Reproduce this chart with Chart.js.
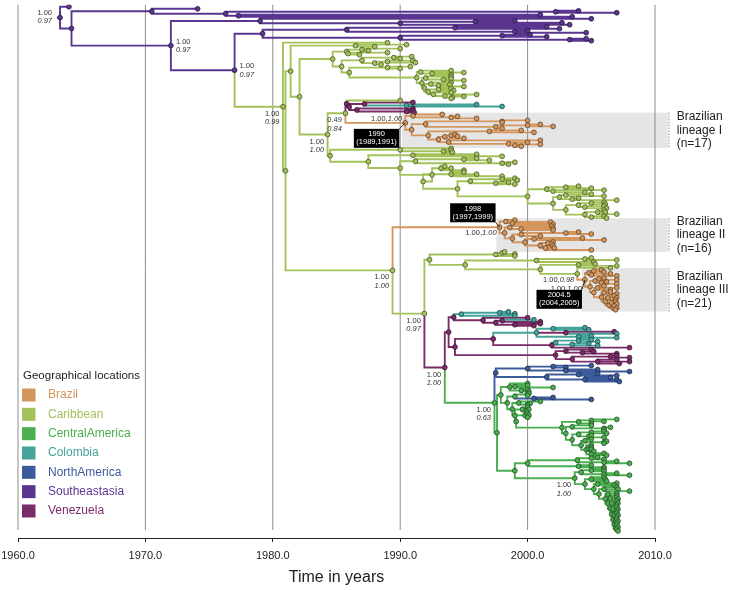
<!DOCTYPE html>
<html>
<head>
<meta charset="utf-8">
<script src="https://cdn.jsdelivr.net/npm/chart.js@4.4.1/dist/chart.umd.min.js"></script>
<style>html,body{margin:0;padding:0;background:#fff}</style>
</head>
<body>
<canvas id="tree" width="731" height="590"></canvas>
<script>
// ---- data ----
const locations = ['Brazil', 'Caribbean', 'CentralAmerica', 'Colombia', 'NorthAmerica', 'Southeastasia', 'Venezuela'];
const locCodes = ['B', 'K', 'C', 'O', 'N', 'S', 'V'];
const yearTicks = [1960, 1970, 1980, 1990, 2000, 2010];
const lineageNames = ['lineage I', 'lineage II', 'lineage III'];
const lineageCounts = [17, 16, 21];
const lineageDates = [['1990', '(1989,1991)'], ['1998', '(1997,1999)'], ['2004.5', '(2004,2005)']];

// tree clades: location code + node date, children top to bottom in brackets
// {a/b/pos} = posterior support labels, {Ln} = Brazilian lineage n
const seAsia = `S1963.3{1.00/0.97/l}(S1964.0,
  S1964.2(S1970.5(S1974.1,S1976.3(S2002.2(S2004.0,S2007.0),S1977.3(S2001.0,S2003.5))),
  S1972.0{1.00/0.97/r}(S1979.0(S2005.0,S1990.0(S1995.9(S1999.0,S2002.7),S2003.3)),
  S1977.0{1.00/0.97/r}(S1979.2(S1985.8(S1994.3(S2001.5,S2002.5),S1999.0(S2000.0,S2004.6)),
    S1990.0(S1998.0(S2000.2,S2001.5),S2003.3(S2004.6,S2005.0))), $americas) ) ) )`;

const americas = `K1980.8{1.00/0.99/lb}(K1989.0,
  K1981.0(K1981.4(K1986.5(K1990.5,K1988.0),
    K1982.1($caribTop, K1984.3{1.00/1.00/lb}(K1985.7{0.49/0.84/lb}($venezMini, $brazil1), $caribMid) ) ),
  K1989.4{1.00/1.00/lb}($brazil2, K1991.9{1.00/0.97/lb}($caribLow,
    V1993.5{1.00/1.00/lb}($venezCol, C1997.4{1.00/0.63/lb}($northAm, C1997.6($centralA, $centralB)
  )))) ))`;

const caribTop = `K1984.7(K1985.8(K1987.0(K1990.0,K1987.5),K1985.9(K1989.0,K1986.8)),
  K1985.4(K1987.0(K1989.5(K1990.9,K1990.0),K1988.0(K1989.0(K1991.0,K1991.2),K1988.5)),
  K1986.0(K1989.0(K1990.8,K1990.0),
  K1991.3(K1991.6(K1994.0,K1992.5(K1995.0,K1994.0)),
  K1991.7(K1992.0(K1994.0,K1993.4(K1994.0,K1995.0)),
  K1991.9(K1992.4(K1994.0,K1993.0(K1993.9,K1995.0)),
  K1992.2(K1993.0(K1994.0,K1994.2),K1992.6(K1994.0,K1993.5(K1996.0,K1994.1(K1995.0,K1994.0
  ))))) )))))`;

const venezMini = `V1985.8(K1990.0,V1986.0(V1987.2(V1991.0,O1990.5(O1996.0,O1998.0)),
  V1986.6(V1991.0,V1990.5(V1991.0,V1991.1) ) ) )`;

const brazil1 = `B1990.4{1.00,1.00/ia}{L0}(B1991.0(B1993.3,B1994.0(B1994.5,B1996.0)),
  B1990.9(B1992.0(B1998.0(B2000.0,B1998.0),B1997.5(B2000.0(B2001.0,B2002.0),B1998.0)),
  B1992.2(B1997.0(B1999.5,B2000.5),
  B1993.0(B1993.5(B1994.0(B1994.3,B1994.5),B1995.0),B1993.8(B2001.0,B1998.5(B2000.0,B1999.0(B2001.0,B1999.5
  ))))) ))`;

const caribMid = `K1984.5(K1990.0(K1994.0,K1993.4(K1994.0,K1994.1)),
  K1987.5(K1991.0(K1996.0,K1998.0),
  K1990.0(K1991.2(K1995.0(K1996.0,K1997.0),K1998.0(K1999.0,K1998.5)),
  K1992.5(K1993.2(K1993.5,K1994.0,K1995.0),
  K1991.8(K1994.0(K1995.0,K1996.0,K1998.0),
  K1994.5(K1995.5(K1998.0(K1999.0,K1999.2),K1997.5(K1998.5,K1999.0)),
  K2000.0(K2001.5(K2003.0(K2004.0,K2005.0),K2002.0(K2006.0,K2004.5)),
  K2002.0(K2002.5(K2003.0(K2005.0,K2006.0),K2003.5(K2004.0,K2007.0)),
  K2003.0(K2004.0(K2005.0(K2006.0,K2006.1),K2004.5(K2006.0,K2006.2)),
    K2004.5(K2005.5(K2006.0,K2006.1,K2007.0),K2005.0(K2006.0,K2006.2
  ))))) ))))) )`;

const brazil2 = `B1997.8{1.00,1.00/i}{L1}(B1998.3(B1999.0,B1998.8(B2001.8,B2002.0)),
  B1998.2(B1998.6(B2001.9,B1999.5(B2002.0,B2002.0)),
  B1998.8(B1999.5(B2003.0(B2004.0,B2005.0),B2001.0),
  B1999.8(B2000.5(B2004.3,B2006.0),B2001.0(B2001.6(B2002.0,B2001.9),B2001.4(B2002.0,B2002.1,B2005.0
  ))))) )`;

const caribLow = `K1992.3(K1997.5(K1998.0(K1998.2,K1999.0),K1999.0),
  K1995.1(K2000.7(K2004.5(K2005.0,K2007.0),K2005.2),
  K2001.0(K2004.0(K2005.3,K2007.0),K2003.9{1.00,0.98/i}(K2006.5, $brazil3) ) ) )`;

const brazil3 = `B2004.5{1.00,1.00/ib}{L2}(B2004.8(B2005.2(B2005.8,B2006.0),B2005.0(B2006.5,B2007.0)),
  B2004.9(B2005.3(B2005.6(B2006.0,B2007.0),B2005.8(B2006.2,B2007.0)),
  B2005.2(B2005.5(B2006.0,B2007.0,B2006.5),
  B2005.8(B2006.0(B2006.5,B2007.0),
  B2006.1(B2006.3(B2006.8,B2007.0,B2006.9),B2006.4(B2006.6(B2006.9,B2007.0),B2006.7(B2006.8,B2007.0,B2006.9
  ))))) ))`;

const venezCol = `V1993.8(V1994.2(O1994.8(O1997.8(O1998.5,O1999.0),O1999.0),
    V1996.5(V2000.0,V1997.5(V1998.0(O2000.5,V2001.0),V1999.0(V2001.0,V2000.5)))),
  V1994.3(V1997.3(O2000.7(O2002.0(O2004.5,O2004.8),V2003.0(V2006.8,O2007.0),O2004.0(O2005.0,O2007.0)),
    V2001.9(O2002.2(O2004.0(O2005.0,O2005.5),O2003.5(O2004.8,O2005.5)),V2008.0)),
  V2002.2(V2003.0(V2005.0,V2004.3(V2005.2,V2007.0)),V2003.5(V2006.5(V2007.0,V2008.0),V2005.5(V2007.0,V2008.0,V2007.2
  ))))) `;

const northAm = `N1997.5(N2000.0(N2002.0(N2005.0,N2003.0),N2003.0(N2005.5,N2008.0)),
  N2001.5(N2004.0(N2005.5,N2007.0),N2004.5(N2006.5,N2007.0,N2007.2) ) )`;

const centralA = `C1997.9(C1998.6(C2000.0,C1999.0(C2000.0,C2002.0),C1999.5(C2000.0,C2000.1)),
  C1998.4(C1999.0(C2000.0(C2000.1,C2000.0),N2000.5(N2002.0,N2005.0)),
  C1998.8(C1999.3(C2001.0,C2000.0(C2000.2,C2000.0)),
  C1999.0(C1999.6(C2000.0,C2000.1,C1999.9),
  C1999.1(C1999.8(C2000.0,C2000.1,C2000.0), $centralSub
  ))))) `;

const centralSub = `C2002.7(C2004.0(C2005.0(C2007.0,C2006.0),C2005.0),
  C2003.0(C2003.5(C2005.0,C2006.0(C2006.5,C2006.0)),
  C2003.5(C2004.0(C2005.0(C2006.0,C2006.2),C2004.8(C2005.0,C2006.0)),
  C2004.2(C2004.5(C2005.0,C2006.0(C2006.2,C2006.0)),
    C2004.6(C2005.0,C2004.8(C2005.0,C2005.0(C2005.0,C2005.2)),C2005.0(C2006.0,C2006.2
  ))))) )`;

const centralB = `C1999.0(C2000.0(C2003.9(C2005.0(C2005.5,C2006.0),C2006.0(C2007.0,C2008.0)),C2004.0(C2005.0,C2006.0)),
  C2003.7{1.00/1.00/lb}(C2004.2(C2005.0(C2006.0,C2006.0),C2006.0(C2007.0,C2008.0)),
  C2004.5(C2005.0(C2006.0,C2006.1,C2006.2),
  C2005.2(C2005.5(C2007.0,C2006.8),
  C2005.6(C2006.0(C2007.0,C2007.1,C2008.0),
  C2006.1(C2006.3(C2007.0,C2007.0),
  C2006.3(C2006.5(C2007.0,C2007.1),
  C2006.5(C2006.6(C2007.0,C2007.1,C2007.0),
  C2006.6(C2006.7(C2007.0,C2007.1,C2007.0),
  C2006.7(C2006.8(C2007.0,C2007.1,C2007.0),
  C2006.8(C2006.9(C2007.0,C2007.1,C2007.0),C2006.9(C2007.0,C2007.1,C2007.0,C2007.1
  ))))) ))))) ))`;

// ---- styling ----
const family = '"Liberation Sans", Arial, Helvetica, sans-serif';
const colors = {
  B: '#D4965C', K: '#A3C25A', C: '#4BAE4F', O: '#45A39B',
  N: '#3D5B9B', S: '#5B3690', V: '#7B2D69'
};
function darker(hex, f) {
  const n = parseInt(hex.slice(1), 16);
  const r = Math.round((n >> 16) * f), g = Math.round(((n >> 8) & 255) * f), b = Math.round((n & 255) * f);
  return `rgb(${r},${g},${b})`;
}

// ---- build tree ----
const clades = { americas, caribTop, venezMini, brazil1, caribMid, brazil2, caribLow, brazil3,
                 venezCol, northAm, centralA, centralSub, centralB };
function expand(s) {
  return s.replace(/\$(\w+)/g, (_, k) => expand(clades[k]));
}

function parseTree(src) {
  const s = src.replace(/\s+/g, '');
  let i = 0;
  function node() {
    const m = /^([A-Z])(\d+(?:\.\d+)?)/.exec(s.slice(i));
    if (!m) throw new Error('tree parse error near: ' + s.slice(i, i + 30));
    i += m[0].length;
    const n = { loc: m[1], t: parseFloat(m[2]), kids: [] };
    while (s[i] === '{') {
      const j = s.indexOf('}', i);
      const body = s.slice(i + 1, j);
      if (body[0] === 'L') n.lineage = +body.slice(1);
      else {
        const parts = body.split('/');
        n.place = parts.pop();
        n.support = parts;
      }
      i = j + 1;
    }
    if (s[i] === '(') {
      i++;
      n.kids.push(node());
      while (s[i] === ',') { i++; n.kids.push(node()); }
      if (s[i] === ')') i++;
    }
    return n;
  }
  return node();
}

const root = parseTree(expand(seAsia));
const nodes = [];
let tipCount = 0;
function layout(n, parent) {
  n.parent = parent;
  nodes.push(n);
  if (!n.kids.length) {
    n.y = tipCount++;
    n.first = n.last = n.y;
  } else {
    n.kids.forEach(k => layout(k, n));
    const a = n.kids[0], b = n.kids[n.kids.length - 1];
    n.y = (a.y + b.y) / 2;
    n.first = a.first;
    n.last = b.last;
  }
}
layout(root, null);
const lineageRoots = nodes.filter(n => n.lineage !== undefined).sort((a, b) => a.lineage - b.lineage);

const branchData = {}, nodeData = {};
locCodes.forEach(c => { branchData[c] = []; nodeData[c] = []; });
nodes.forEach(n => {
  const p = n.parent;
  const seg = branchData[n.loc];
  if (p) seg.push({ x: p.t, y: p.y }, { x: p.t, y: n.y }, { x: n.t, y: n.y }, { x: null, y: null });
  else seg.push({ x: n.t - 0.25, y: n.y }, { x: n.t, y: n.y }, { x: null, y: null });
  nodeData[n.loc].push({ x: n.t, y: n.y });
});

const datasets = [];
locCodes.forEach(c => {
  datasets.push({
    type: 'scatter', data: nodeData[c], order: 0,
    pointRadius: 2.4, pointBackgroundColor: colors[c],
    pointBorderColor: darker(colors[c], 0.45), pointBorderWidth: 0.8
  });
  datasets.push({
    type: 'line', data: branchData[c], order: 1,
    showLine: true, spanGaps: false, pointRadius: 0, tension: 0,
    borderColor: colors[c], borderWidth: 1.9, borderCapStyle: 'butt', borderJoinStyle: 'miter'
  });
});

// ---- annotation plugin ----
function supportLabel(ctx, n, px, py) {
  ctx.fillStyle = '#333';
  const normal = `7.5px ${family}`, italic = `italic 7.5px ${family}`;
  if (n.support.length === 2) {
    let ax, dy1, dy2;
    if (n.place === 'l') { ax = px - 8; ctx.textAlign = 'right'; dy1 = -5; dy2 = 3.5; }
    else if (n.place === 'r') { ax = px + 5; ctx.textAlign = 'left'; dy1 = -4; dy2 = 4.5; }
    else { ax = px - 3.5; ctx.textAlign = 'right'; dy1 = 7; dy2 = 15.5; }
    ctx.textBaseline = 'middle';
    ctx.font = normal; ctx.fillText(n.support[0], ax, py + dy1);
    ctx.font = italic; ctx.fillText(n.support[1], ax, py + dy2);
  } else {
    const [a, b] = n.support[0].split(',');
    const dy = n.place === 'ia' ? -4 : n.place === 'ib' ? 9 : 6;
    ctx.textBaseline = 'middle';
    ctx.textAlign = 'right';
    ctx.font = italic;
    const wb = ctx.measureText(b).width;
    ctx.fillText(b, px - 3, py + dy);
    ctx.font = normal;
    ctx.fillText(a + ',', px - 3 - wb, py + dy);
  }
}

const boxSides = [[-6, 6, 'below'], [-4, -5, 'above'], [-3, 10, 'below']];

const treePlugin = {
  id: 'treeDecor',
  beforeDatasetsDraw(chart) {
    const { ctx, chartArea: a, scales: { x, y } } = chart;
    ctx.save();
    lineageRoots.forEach(n => {
      const x0 = x.getPixelForValue(n.t - 0.25), x1 = x.getPixelForValue(2011);
      const y0 = y.getPixelForValue(n.first - 0.9), y1 = y.getPixelForValue(n.last + 0.9);
      ctx.fillStyle = '#e5e5e5';
      ctx.fillRect(x0, y0, x1 - x0, y1 - y0);
    });
    ctx.strokeStyle = '#8c8c8c';
    ctx.lineWidth = 1;
    yearTicks.forEach(v => {
      const px = x.getPixelForValue(v);
      ctx.beginPath(); ctx.moveTo(px, a.top); ctx.lineTo(px, a.bottom - 8); ctx.stroke();
    });
    ctx.restore();
  },
  afterDatasetsDraw(chart) {
    const { ctx, chartArea: a, scales: { x, y } } = chart;
    ctx.save();
    nodes.filter(n => n.support).forEach(n => supportLabel(ctx, n, x.getPixelForValue(n.t), y.getPixelForValue(n.y)));

    // dated boxes for the Brazilian lineages
    lineageRoots.forEach((n, i) => {
      const px = x.getPixelForValue(n.t), py = y.getPixelForValue(n.y);
      const [dx, dy, side] = boxSides[i];
      const lines = lineageDates[i];
      ctx.font = `7.5px ${family}`;
      const w = Math.max(...lines.map(t => ctx.measureText(t).width)) + 5, h = 19;
      const right = px + dx;
      const top = side === 'below' ? py + dy : py + dy - h;
      ctx.strokeStyle = '#000'; ctx.lineWidth = 0.8;
      ctx.beginPath();
      ctx.moveTo(right, side === 'below' ? top : top + h);
      ctx.lineTo(px, py);
      ctx.stroke();
      ctx.fillStyle = '#000';
      ctx.fillRect(right - w, top, w, h);
      ctx.fillStyle = '#fff'; ctx.textAlign = 'center'; ctx.textBaseline = 'middle';
      ctx.fillText(lines[0], right - w / 2, top + 5.5);
      ctx.fillText(lines[1], right - w / 2, top + 13.5);

      // side labels with dotted bracket
      const y0 = y.getPixelForValue(n.first - 0.9), y1 = y.getPixelForValue(n.last + 0.9);
      const bx = x.getPixelForValue(2011.1);
      ctx.strokeStyle = '#888'; ctx.lineWidth = 1; ctx.setLineDash([1.5, 1.5]);
      ctx.beginPath(); ctx.moveTo(bx, y0); ctx.lineTo(bx, y1); ctx.stroke();
      ctx.setLineDash([]);
      const c = (y0 + y1) / 2;
      ctx.fillStyle = '#222'; ctx.textAlign = 'left'; ctx.font = `12px ${family}`;
      ['Brazilian', lineageNames[i], `(n=${lineageCounts[i]})`].forEach((t, k) => {
        ctx.fillText(t, x.getPixelForValue(2011.7), c + (k - 1) * 13.5);
      });
    });

    // legend
    ctx.textAlign = 'left'; ctx.textBaseline = 'middle';
    ctx.fillStyle = '#222'; ctx.font = `11.5px ${family}`;
    ctx.fillText('Geographical locations', 23, 376);
    locations.forEach((name, k) => {
      const col = colors[locCodes[k]];
      const cy = 395 + k * 19.33;
      ctx.fillStyle = col;
      ctx.fillRect(22, cy - 6.5, 13.5, 13);
      ctx.font = `12px ${family}`;
      ctx.fillText(name, 48, cy);
    });

    // axis title
    ctx.fillStyle = '#222'; ctx.textAlign = 'center'; ctx.font = `16px ${family}`;
    ctx.fillText('Time in years', (a.left + a.right) / 2, 578);
    ctx.restore();
  }
};

new Chart(document.getElementById('tree'), {
  data: { datasets },
  options: {
    responsive: false,
    animation: false,
    events: [],
    layout: { padding: { left: 18, right: 76, top: 3, bottom: 0 } },
    plugins: { legend: { display: false }, tooltip: { enabled: false } },
    scales: {
      x: {
        type: 'linear', min: 1960, max: 2010,
        afterBuildTicks: s => { s.ticks = yearTicks.map(v => ({ value: v })); },
        afterFit: s => { s.height = 52; s.paddingLeft = 0; s.paddingRight = 0; },
        ticks: { callback: v => v.toFixed(1), font: { family, size: 11 }, color: '#222', padding: 7, maxRotation: 0 },
        grid: { drawOnChartArea: false, tickLength: 4, color: '#222' },
        border: { color: '#222', width: 1 }
      },
      y: { display: false, min: -1, max: 266.5, reverse: true }
    }
  },
  plugins: [treePlugin]
});
</script>
</body>
</html>
